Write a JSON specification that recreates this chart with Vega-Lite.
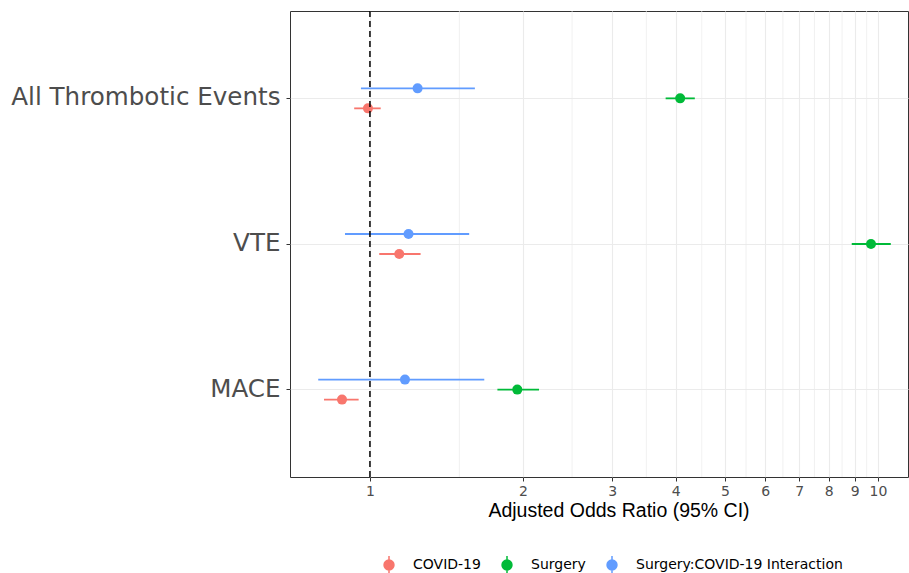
{
  "$schema": "https://vega.github.io/schema/vega-lite/v6.json",
  "autosize": {"type": "none"},
  "width": 618,
  "height": 466,
  "padding": {"left": 290, "top": 11, "right": 1, "bottom": 96},
  "background": "white",
  "config": {
    "view": {"stroke": "#333333", "strokeWidth": 1},
    "axis": {"labelFont": "DejaVu Sans", "titleFont": "Liberation Sans"}
  },
  "datasets": {
    "estimates": [
      {"outcome": "All Thrombotic Events", "term": "COVID-19", "or": 0.991, "lo": 0.931, "hi": 1.050},
      {"outcome": "All Thrombotic Events", "term": "Surgery", "or": 4.08, "lo": 3.82, "hi": 4.36},
      {"outcome": "All Thrombotic Events", "term": "Surgery:COVID-19 Interaction", "or": 1.241, "lo": 0.960, "hi": 1.609},
      {"outcome": "VTE", "term": "COVID-19", "or": 1.142, "lo": 1.043, "hi": 1.258},
      {"outcome": "VTE", "term": "Surgery", "or": 9.69, "lo": 8.88, "hi": 10.6},
      {"outcome": "VTE", "term": "Surgery:COVID-19 Interaction", "or": 1.191, "lo": 0.893, "hi": 1.568},
      {"outcome": "MACE", "term": "COVID-19", "or": 0.881, "lo": 0.812, "hi": 0.950},
      {"outcome": "MACE", "term": "Surgery", "or": 1.950, "lo": 1.782, "hi": 2.152},
      {"outcome": "MACE", "term": "Surgery:COVID-19 Interaction", "or": 1.172, "lo": 0.791, "hi": 1.679}
    ],
    "minor": [
      {"v": 1.5}, {"v": 2.5}, {"v": 3.5}, {"v": 4.5}, {"v": 5.5},
      {"v": 6.5}, {"v": 7.5}, {"v": 8.5}, {"v": 9.5}
    ],
    "ref": [{"v": 1}]
  },
  "layer": [
    {
      "data": {"name": "minor"},
      "mark": {"type": "rule", "color": "#EBEBEB", "strokeWidth": 0.7},
      "encoding": {
        "x": {"field": "v", "type": "quantitative", "scale": {"type": "log", "domain": [0.696, 11.46], "nice": false}}
      }
    },
    {
      "data": {"name": "estimates"},
      "mark": {"type": "rule", "strokeWidth": 1.8},
      "encoding": {
        "y": {
          "field": "outcome", "type": "nominal",
          "scale": {"type": "band", "domain": ["All Thrombotic Events", "VTE", "MACE"], "paddingInner": 0, "paddingOuter": 0.1},
          "axis": {
            "title": null, "domain": false, "bandPosition": 0.5,
            "grid": true, "gridColor": "#EBEBEB", "gridWidth": 1.1,
            "ticks": true, "tickSize": 4, "tickColor": "#333333", "tickWidth": 1,
            "labelFont": "DejaVu Sans", "labelFontSize": 24.6, "labelColor": "#4D4D4D", "labelPadding": 6, "labelLimit": 400
          }
        },
        "yOffset": {
          "field": "term", "type": "nominal",
          "scale": {"domain": ["Surgery:COVID-19 Interaction", "Surgery", "COVID-19"], "range": [57.8, 87.8], "paddingInner": 0, "paddingOuter": 0}
        },
        "x": {
          "field": "lo", "type": "quantitative",
          "scale": {"type": "log", "domain": [0.696, 11.46], "nice": false},
          "axis": {
            "values": [1, 2, 3, 4, 5, 6, 7, 8, 9, 10], "format": "d",
            "domain": false, "grid": true, "gridColor": "#EBEBEB", "gridWidth": 1.1,
            "tickSize": 4, "tickColor": "#333333", "tickWidth": 1,
            "labelFont": "DejaVu Sans", "labelFontSize": 14, "labelColor": "#4D4D4D", "labelPadding": 3,
            "title": "Adjusted Odds Ratio (95% CI)", "titleFont": "Liberation Sans", "titleFontSize": 19.5,
            "titleFontWeight": "normal", "titleColor": "#000000", "titlePadding": 3, "titleX": 328.5
          }
        },
        "x2": {"field": "hi"},
        "color": {
          "field": "term", "type": "nominal",
          "scale": {"domain": ["COVID-19", "Surgery", "Surgery:COVID-19 Interaction"], "range": ["#F8766D", "#00BA38", "#619CFF"]},
          "legend": {
            "title": null, "orient": "none", "legendX": 89, "legendY": 544, "direction": "horizontal",
            "padding": 0, "offset": 0,
            "symbolType": "M0,-1L0,1M-0.55,0A0.55,0.55,0,1,0,0.55,0A0.55,0.55,0,1,0,-0.55,0Z",
            "symbolSize": 324, "symbolStrokeWidth": 1.5, "symbolOpacity": 1,
            "labelFont": "DejaVu Sans", "labelFontSize": 14, "labelColor": "#000000", "labelOffset": 14,
            "columnPadding": 16, "labelLimit": 400,
            "encode": {"symbols": {"update": {"stroke": {"scale": "color", "field": "value"}, "fill": {"scale": "color", "field": "value"}, "strokeWidth": {"value": 1.5}}}}
          }
        }
      }
    },
    {
      "data": {"name": "estimates"},
      "mark": {"type": "point", "filled": true, "size": 100, "opacity": 1},
      "encoding": {
        "y": {"field": "outcome", "type": "nominal"},
        "yOffset": {"field": "term", "type": "nominal"},
        "x": {"field": "or", "type": "quantitative"},
        "color": {"field": "term", "type": "nominal"}
      }
    },
    {
      "data": {"name": "ref"},
      "mark": {"type": "rule", "color": "#000000", "strokeWidth": 1.5, "strokeDash": [6, 4]},
      "encoding": {
        "x": {"field": "v", "type": "quantitative"}
      }
    }
  ]
}
